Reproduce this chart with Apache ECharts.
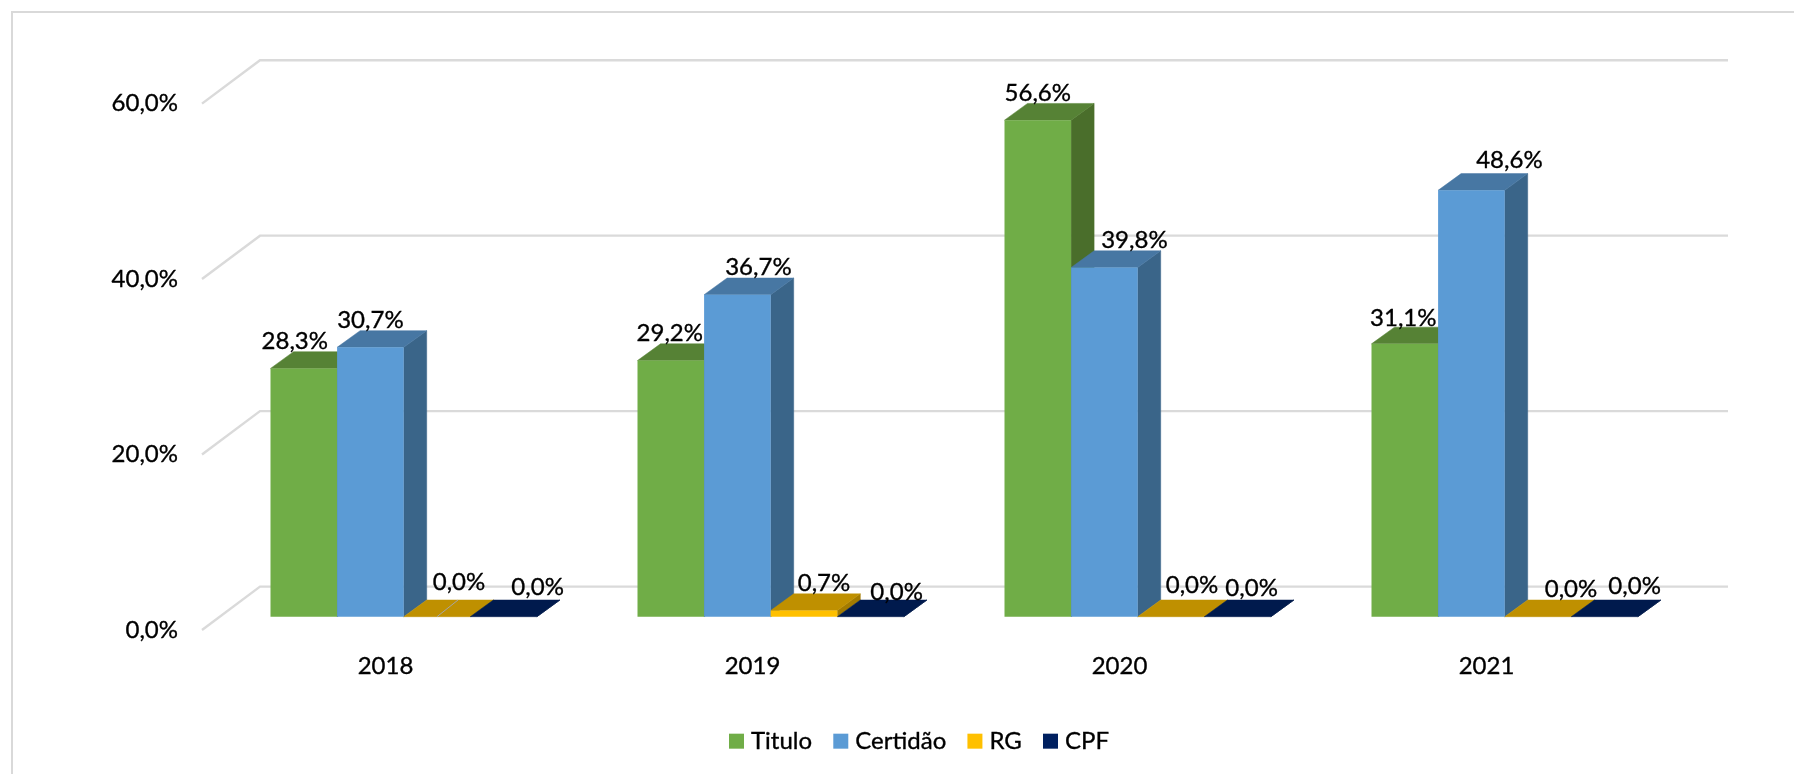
<!DOCTYPE html>
<html>
<head>
<meta charset="utf-8">
<style>html,body{margin:0;padding:0;background:#fff;overflow:hidden}#c{width:1794px;height:774px}</style>
<script src="https://cdn.jsdelivr.net/npm/echarts@6/dist/echarts.min.js"></script>
</head>
<body>
<div id="c"></div>
<script>
const years = ['2018', '2019', '2020', '2021'];
const titulo = [28.3, 29.2, 56.6, 31.1];
const certidao = [30.7, 36.7, 39.8, 48.6];
const rg = [0.0, 0.7, 0.0, 0.0];
const cpf = [0.0, 0.0, 0.0, 0.0];
const yTicks = [0, 20, 40, 60];

// Layout of the pseudo-3D drawing (pixels)
const FONT = 'Lato';
const FONT_SIZE = 24;
const TEXT_BOLD = 0.35;
const BAR_W = 66.6;
const WALL_DX = 58, WALL_DY = 43.4;
const INSET_DX = 18.2, INSET_DY = 13.3;
const DEPTH_DX = 23, DEPTH_DY = 16.7;

// Hand-placed data label nudges: offset from the bar's front-top centre
const labelNudge = {
  Titulo:   [[-9, -27], [-1, -27], [0, -27], [-1.5, -26]],
  'Certidão': [[0, -27], [21, -27], [30, -27], [38, -30]],
  RG:       [[22, -34], [20, -27], [21, -31], [33, -27]],
  CPF:      [[34, -29], [26, -24], [14, -28], [30, -30]]
};
const seriesStyle = [
  { name: 'Titulo', values: titulo, slot: 0, front: '#70AD47', top: '#568235', side: '#4A6E2B' },
  { name: 'Certidão', values: certidao, slot: 1, front: '#5B9BD5', top: '#4777A3', side: '#3A6589' },
  { name: 'RG', values: rg, slot: 2, front: '#FFC000', top: '#BF9000', side: '#A37B00' },
  { name: 'CPF', values: cpf, slot: 3, front: '#002060', top: '#001A4D', side: '#001640' }
];
const fmt = v => v.toFixed(1).replace('.', ',') + '%';

function barRenderer(s) {
  return function (params, api) {
    const i = api.value(0), v = api.value(1);
    const c = api.coord([i, v]), b = api.coord([i, 0]);
    const x0 = c[0] + INSET_DX - 2 * BAR_W + s.slot * BAR_W;
    const x1 = x0 + BAR_W;
    const yT = c[1] - INSET_DY, yB = b[1] - INSET_DY;
    const kids = [];
    kids.push({ type: 'polygon', shape: { points: [[x1, yT], [x1 + DEPTH_DX, yT - DEPTH_DY], [x1 + DEPTH_DX, yB - DEPTH_DY], [x1, yB]] }, style: { fill: s.side, stroke: s.side, lineWidth: 0.5 }, z2: 1 });
    kids.push({ type: 'polygon', shape: { points: [[x0, yT], [x0 + DEPTH_DX, yT - DEPTH_DY], [x1 + DEPTH_DX, yT - DEPTH_DY], [x1, yT]] }, style: { fill: s.top, stroke: s.top, lineWidth: 0.5 }, z2: 1 });
    if (yB - yT > 0.5) {
      kids.push({ type: 'rect', shape: { x: x0, y: yT, width: BAR_W, height: yB - yT }, style: { fill: s.front }, z2: 2 });
    }
    if (s.name === 'RG' && i === 0) {
      const mx = x0 + BAR_W / 2;
      kids.push({ type: 'line', shape: { x1: mx, y1: yB, x2: mx + DEPTH_DX - 2, y2: yB - DEPTH_DY }, style: { stroke: '#A6A6A6', lineWidth: 1 }, z2: 3 });
    }
    const n = labelNudge[s.name][i];
    kids.push({
      type: 'text', z2: 20,
      style: { x: x0 + BAR_W / 2 + n[0], y: yT + n[1], text: fmt(v), fill: '#000', stroke: '#000', lineWidth: TEXT_BOLD, font: FONT_SIZE + 'px ' + FONT, align: 'center', verticalAlign: 'middle' }
    });
    return { type: 'group', children: kids };
  };
}

const wallSeries = {
  type: 'custom', name: 'wall', silent: true, z: 1,
  data: yTicks.map(t => [0, t]),
  encode: { x: 0, y: 1 },
  renderItem: function (params, api) {
    const t = api.value(1);
    const first = api.coord([0, t]);
    const band = api.size([1, 0])[0];
    const xF = first[0] - band / 2, y = first[1];
    const xEnd = xF + band * years.length + WALL_DX;
    return {
      type: 'polyline',
      shape: { points: [[xF, y], [xF + WALL_DX, y - WALL_DY], [xEnd, y - WALL_DY]] },
      style: { stroke: '#DADADA', lineWidth: 2.4, fill: 'none' }
    };
  }
};

const axisText = { fontFamily: FONT, fontSize: FONT_SIZE, color: '#000', textBorderColor: '#000', textBorderWidth: TEXT_BOLD };
const chart = echarts.init(document.getElementById('c'), null, { renderer: 'canvas', width: 1794, height: 774 });
chart.setOption({
  animation: false,
  backgroundColor: '#fff',
  textStyle: { fontFamily: FONT },
  graphic: [{ type: 'rect', shape: { x: 12, y: 12, width: 1900, height: 900 }, style: { fill: 'none', stroke: '#D9D9D9', lineWidth: 2 }, silent: true, z: 0 }],
  grid: { left: 202, right: 124, top: 103.6, bottom: 144 },
  xAxis: {
    type: 'category', data: years,
    axisLine: { show: false }, axisTick: { show: false },
    axisLabel: Object.assign({ margin: 24 }, axisText)
  },
  yAxis: {
    type: 'value', min: 0, max: 60, interval: 20,
    axisLine: { show: false }, axisTick: { show: false }, splitLine: { show: false },
    axisLabel: Object.assign({ margin: 24, formatter: fmt }, axisText)
  },
  legend: {
    left: 724, top: 724, icon: 'rect', itemWidth: 15, itemHeight: 15, itemGap: 21,
    data: seriesStyle.map(s => s.name),
    textStyle: Object.assign({ padding: [0, 0, 0, 2] }, axisText),
    selectedMode: false
  },
  series: [wallSeries].concat(seriesStyle.map(s => ({
    type: 'custom', name: s.name, z: 2,
    itemStyle: { color: s.front },
    encode: { x: 0, y: 1 },
    data: s.values.map((v, i) => [i, v]),
    renderItem: barRenderer(s)
  })))
});
// Lato's "ti" ligature is not in the reference's typeface: a tiny letter spacing turns ligatures off.
const zr = chart.getZr();
zr.refreshImmediately();
const layers = zr.painter.getLayers();
Object.keys(layers).forEach(k => { if (layers[k].ctx) layers[k].ctx.letterSpacing = '0.05px'; });
zr.refreshImmediately();
</script>
</body>
</html>
